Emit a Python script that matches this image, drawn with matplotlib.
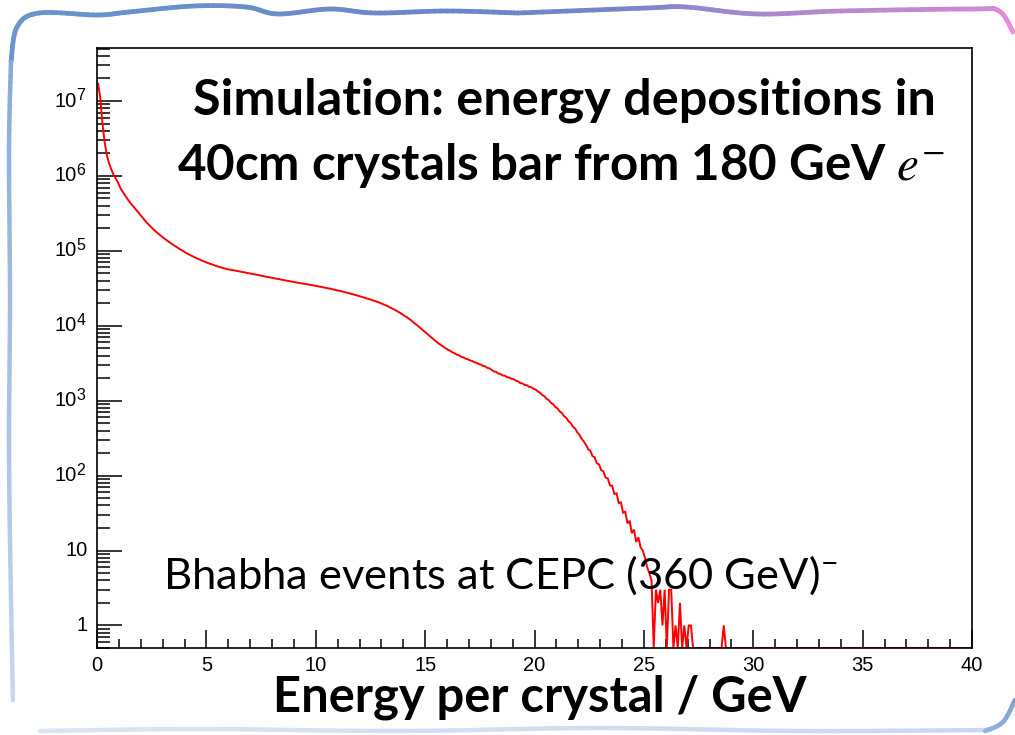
import numpy as np
import matplotlib
matplotlib.use("Agg")
import matplotlib.pyplot as plt
from matplotlib.collections import LineCollection
from matplotlib.ticker import FixedLocator, NullFormatter
from matplotlib.transforms import blended_transform_factory, offset_copy

plt.rcParams["mathtext.fontset"] = "stix"

# Deposited energy per crystal, counts per 0.1 GeV bin starting at 0 GeV
BIN_WIDTH = 0.1
X_RANGE = (0.0, 40.0)
Y_RANGE = (0.5, 5.1e7)

counts = [
    # 0-1 GeV
    1.7e7, 1.1e7, 5.0e6, 2.8e6, 1.9e6, 1.48e6, 1.23e6, 1.05e6, 9.3e5, 8.3e5,
    # 1-2 GeV
    7.08e5, 6.31e5, 5.69e5, 5.13e5, 4.68e5, 4.27e5, 3.94e5, 3.63e5, 3.35e5, 3.09e5,
    # 2-3 GeV
    2.85e5, 2.63e5, 2.43e5, 2.26e5, 2.11e5, 1.97e5, 1.85e5, 1.75e5, 1.65e5, 1.56e5,
    # 3-4 GeV
    1.48e5, 1.41e5, 1.34e5, 1.28e5, 1.22e5, 1.17e5, 1.12e5, 1.07e5, 1.03e5, 9.9e4,
    # 4-5 GeV
    9.44e4, 9.12e4, 8.81e4, 8.51e4, 8.24e4, 7.98e4, 7.74e4, 7.52e4, 7.31e4, 7.11e4,
    # 5-6 GeV
    6.92e4, 6.75e4, 6.58e4, 6.43e4, 6.28e4, 6.15e4, 6.03e4, 5.92e4, 5.81e4, 5.70e4,
    # 6-7 GeV
    5.64e4, 5.57e4, 5.50e4, 5.43e4, 5.36e4, 5.29e4, 5.22e4, 5.15e4, 5.08e4, 5.02e4,
    # 7-8 GeV
    4.96e4, 4.89e4, 4.83e4, 4.76e4, 4.70e4, 4.63e4, 4.57e4, 4.51e4, 4.45e4, 4.39e4,
    # 8-9 GeV
    4.33e4, 4.27e4, 4.22e4, 4.16e4, 4.11e4, 4.06e4, 4.01e4, 3.95e4, 3.91e4, 3.85e4,
    # 9-10 GeV
    3.81e4, 3.77e4, 3.72e4, 3.68e4, 3.64e4, 3.60e4, 3.56e4, 3.52e4, 3.47e4, 3.43e4,
    # 10-11 GeV
    3.39e4, 3.34e4, 3.30e4, 3.26e4, 3.21e4, 3.17e4, 3.13e4, 3.08e4, 3.03e4, 2.98e4,
    # 11-12 GeV
    2.95e4, 2.90e4, 2.86e4, 2.81e4, 2.76e4, 2.71e4, 2.66e4, 2.61e4, 2.56e4, 2.51e4,
    # 12-13 GeV
    2.46e4, 2.41e4, 2.36e4, 2.31e4, 2.26e4, 2.22e4, 2.17e4, 2.12e4, 2.07e4, 2.01e4,
    # 13-14 GeV
    1.96e4, 1.90e4, 1.85e4, 1.79e4, 1.73e4, 1.67e4, 1.61e4, 1.55e4, 1.49e4, 1.43e4,
    # 14-15 GeV
    1.36e4, 1.31e4, 1.25e4, 1.19e4, 1.12e4, 1.06e4, 1.01e4, 9.50e3, 8.97e3, 8.47e3,
    # 15-16 GeV
    8.00e3, 7.55e3, 7.13e3, 6.73e3, 6.35e3, 6.01e3, 5.71e3, 5.45e3, 5.20e3, 4.98e3,
    # 16-17 GeV
    4.78e3, 4.62e3, 4.41e3, 4.30e3, 4.11e3, 4.03e3, 3.86e3, 3.79e3, 3.64e3, 3.58e3,
    # 17-18 GeV
    3.45e3, 3.39e3, 3.26e3, 3.21e3, 3.08e3, 3.04e3, 2.91e3, 2.87e3, 2.74e3, 2.69e3,
    # 18-19 GeV
    2.56e3, 2.45e3, 2.42e3, 2.30e3, 2.27e3, 2.17e3, 2.15e3, 2.06e3, 2.04e3, 1.96e3,
    # 19-20 GeV
    1.93e3, 1.85e3, 1.81e3, 1.72e3, 1.70e3, 1.62e3, 1.61e3, 1.53e3, 1.51e3, 1.45e3,
    # 20-21 GeV
    1.41e3, 1.33e3, 1.28e3, 1.19e3, 1.15e3, 1.06e3, 1.02e3, 935, 899, 826,
    # 21-22 GeV
    790, 720, 688, 622, 592, 534, 505, 452, 428, 380,
    # 22-23 GeV
    352, 312, 286, 259, 226, 214, 182, 176, 146, 141,
    # 23-24 GeV
    118, 114, 94, 92, 74, 73, 57, 58, 43, 44,
    # 24-25 GeV
    32, 33, 23, 25, 17, 19, 13, 15, 11, 10,
    # 25-26 GeV
    8, 6, 5, 4, 0, 3, 2, 3, 1, 3,
    # 26-27 GeV
    0, 3, 3, 0, 1, 0, 2, 0, 1, 0,
    # 27-28 GeV
    1, 1, 0, 0, 0, 0, 0, 0, 0, 0,
    # 28-29 GeV
    0, 0, 0, 0, 0, 0, 1, 0, 0, 0,
]

x_major = [0, 5, 10, 15, 20, 25, 30, 35, 40]
x_minor = list(range(0, 41))
y_decades = [0, 1, 2, 3, 4, 5, 6, 7]

title_lines = ["Simulation: energy depositions in",
               r"40cm crystals bar from 180 GeV $e^{-}$"]
note_text = r"Bhabha events at CEPC (360 GeV)$\mathregular{^{-}}$"
x_title = "Energy per crystal / GeV"

W, H, DPI = 1015, 735, 100
fig = plt.figure(figsize=(W / DPI, H / DPI), dpi=DPI)
fig.patch.set_facecolor("white")


def px_axes(left, top, right, bottom):
    return [left / W, 1 - bottom / H, (right - left) / W, (bottom - top) / H]


# ---- hand-drawn slide frame -------------------------------------------------
def catmull(points, n=12):
    p = np.asarray(points, float)
    p = np.vstack([p[0], p, p[-1]])
    out = []
    for i in range(1, len(p) - 2):
        p0, p1, p2, p3 = p[i - 1], p[i], p[i + 1], p[i + 2]
        for t in np.linspace(0, 1, n, endpoint=False):
            t2, t3 = t * t, t * t * t
            out.append(0.5 * ((2 * p1) + (-p0 + p2) * t
                              + (2 * p0 - 5 * p1 + 4 * p2 - p3) * t2
                              + (-p0 + 3 * p1 - 3 * p2 + p3) * t3))
    out.append(p[-2])
    return np.array(out)


def gradient_line(ax, pts, c0, c1, lw, alpha=1.0):
    pts = catmull(pts)
    segs = np.stack([pts[:-1], pts[1:]], axis=1)
    t = np.linspace(0, 1, len(segs))[:, None]
    c0 = np.array(matplotlib.colors.to_rgb(c0))
    c1 = np.array(matplotlib.colors.to_rgb(c1))
    cols = np.hstack([c0 * (1 - t) + c1 * t, np.full((len(segs), 1), alpha)])
    ax.add_collection(LineCollection(segs, colors=cols, linewidths=lw,
                                     capstyle="round", joinstyle="round"))


deco = fig.add_axes([0, 0, 1, 1])
deco.set_xlim(0, W)
deco.set_ylim(H, 0)
deco.axis("off")

top_left = [(11, 62), (17, 27), (39, 13), (97, 15), (129, 12), (194, 6),
            (246, 7), (278, 14), (330, 9), (375, 13), (447, 11), (518, 13)]
top_right = [(518, 13), (647, 8), (686, 7), (757, 14), (841, 11), (971, 9),
             (999, 11), (1013, 32)]
left_edge = [(11, 62), (9, 150), (10, 300), (9, 450), (11, 600), (13, 700)]
bottom_edge = [(40, 731), (200, 729), (400, 731), (600, 728), (800, 731),
               (990, 730)]
corner = [(985, 731), (1003, 722), (1015, 700)]

gradient_line(deco, top_left, "#6a97d0", "#6a86c6", 3.4)
gradient_line(deco, top_right, "#6a86c6", "#f18bd9", 3.4)
gradient_line(deco, left_edge, "#86a8d8", "#c9d8ee", 3.2)
gradient_line(deco, bottom_edge, "#dbe5f3", "#c9d8ee", 3.2)
gradient_line(deco, corner, "#9ab6de", "#7fa2d4", 3.2)

# ---- histogram panel ---------------------------------------------------------
ax = fig.add_axes(px_axes(97, 48, 972, 648))
ax.set_facecolor("white")

values = np.zeros(int(round((X_RANGE[1] - X_RANGE[0]) / BIN_WIDTH)))
values[:len(counts)] = counts
centres = X_RANGE[0] + BIN_WIDTH * (np.arange(len(values)) + 0.5)
# empty bins sit on the floor of the log axis
drawn = np.where(values > 0, values, Y_RANGE[0])
ax.plot(np.r_[X_RANGE[0], centres], np.r_[drawn[0], drawn],
        color="#ff0000", lw=1.4, zorder=2, solid_joinstyle="miter")

ax.set_yscale("log")
ax.set_xlim(*X_RANGE)
ax.set_ylim(*Y_RANGE)

ax.xaxis.set_major_locator(FixedLocator(x_major))
ax.xaxis.set_minor_locator(FixedLocator(x_minor))
ax.set_xticklabels([str(v) for v in x_major], fontsize=14.5,
                   fontfamily="Liberation Sans")
ax.xaxis.set_minor_formatter(NullFormatter())

y_major = [10.0 ** d for d in y_decades]
y_minor = [m * 10 ** d for d in range(-1, 8) for m in range(2, 10)]
ax.yaxis.set_major_locator(FixedLocator(y_major))
ax.yaxis.set_minor_locator(FixedLocator(y_minor))
ax.yaxis.set_major_formatter(NullFormatter())
ax.yaxis.set_minor_formatter(NullFormatter())

ax.tick_params(axis="both", which="both", direction="in", width=1.1,
               color="black", top=False, right=False)
ax.tick_params(axis="y", which="major", length=18)
ax.tick_params(axis="y", which="minor", length=9.5)
ax.tick_params(axis="x", which="major", length=13, pad=6)
ax.tick_params(axis="x", which="minor", length=6.5)

# power-of-ten labels with a large, raised exponent
lab_tr = blended_transform_factory(fig.transFigure, ax.transData)
lab_font = dict(fontfamily="Liberation Sans", color="black", clip_on=False)
for d, yv in zip(y_decades, y_major):
    if d <= 1:
        fig.text(88 / W, yv, str(int(yv)), transform=lab_tr, ha="right",
                 va="center", fontsize=14.5, **lab_font)
    else:
        fig.text(76.5 / W, yv, "10", transform=lab_tr, ha="right",
                 va="center", fontsize=14.5, **lab_font)
        up = offset_copy(lab_tr, fig=fig, x=0, y=5.5, units="dots")
        fig.text(76.5 / W, yv, str(d), transform=up, ha="left",
                 va="center", fontsize=11.5, **lab_font)

for sp in ax.spines.values():
    sp.set_linewidth(1.2)
    sp.set_color("black")
    sp.set_zorder(3)

# ---- texts ---------------------------------------------------------------
fig.text(564 / W, 1 - 100 / H, title_lines[0], ha="center", va="center",
         fontsize=36.3, fontweight="bold", fontfamily="Lato")
fig.text(561 / W, 1 - 165 / H, title_lines[1], ha="center", va="center",
         fontsize=35.5, fontweight="bold", fontfamily="Lato")
fig.text(163 / W, 1 - 589 / H, note_text, ha="left", va="baseline",
         fontsize=31.3, fontfamily="Lato")
fig.text(540 / W, 1 - 697 / H, x_title, ha="center", va="center",
         fontsize=35.2, fontweight="bold", fontfamily="Lato")

fig.savefig("out.png", dpi=DPI, facecolor="white")
